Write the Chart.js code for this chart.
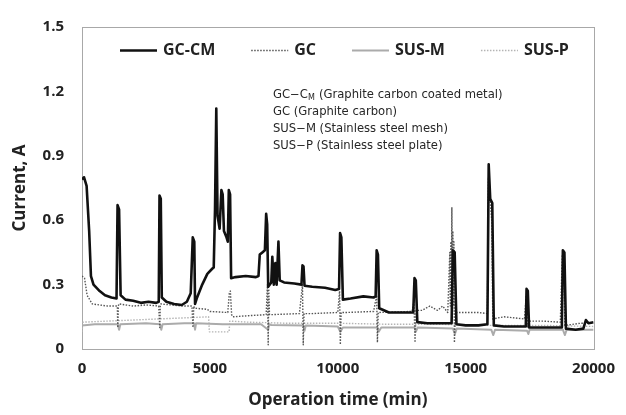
<!DOCTYPE html>
<html><head><meta charset="utf-8">
<script src="https://cdn.jsdelivr.net/npm/chart.js@4.4.0/dist/chart.umd.min.js"></script>
<style>html,body{margin:0;padding:0;background:#fff;}#wrap{width:626px;height:415px;}</style>
</head><body><div id="wrap"><canvas id="c" width="626" height="415"></canvas></div>
<script>
// ---- data (time in min, current in A) ----
const seriesNames = ['GC-CM', 'GC', 'SUS-M', 'SUS-P'];
const xTickLabels = ['0', '5000', '10000', '15000', '20000'];
const yTickLabels = ['0', '0.3', '0.6', '0.9', '1.2', '1.5'];
const noteLines = ['GC\u2212C|M| (Graphite carbon coated metal)', 'GC (Graphite carbon)', 'SUS\u2212M (Stainless steel mesh)', 'SUS\u2212P (Stainless steel plate)'];

const gccmTime = [
  0, 80, 180, 280, 350, 450, 690, 900, 1150, 1350,
  1390, 1450, 1510, 1700, 2000, 2300, 2600, 2900, 3000, 3030,
  3080, 3120, 3300, 3600, 3900, 4100, 4250, 4330, 4390, 4420,
  4500, 4700, 4900, 5100, 5150, 5200, 5250, 5300, 5380, 5450,
  5500, 5550, 5650, 5700, 5740, 5790, 5830, 6000, 6400, 6800,
  6900, 6950, 7050, 7150, 7200, 7240, 7280, 7400, 7440, 7500,
  7560, 7610, 7680, 7730, 7900, 8300, 8580, 8620, 8660, 8700,
  9000, 9500, 9900, 10050, 10090, 10140, 10200, 10500, 11000, 11400,
  11480, 11520, 11570, 11620, 12000, 12500, 12950, 13000, 13050, 13110,
  13500, 14000, 14450, 14500, 14570, 14640, 15000, 15500, 15850, 15900,
  15960, 16040, 16100, 16500, 17000, 17350, 17380, 17430, 17480, 18000,
  18500, 18760, 18800, 18860, 18920, 19300, 19600, 19700, 19800, 20000];
const gccmCurrent = [
  0.79, 0.80, 0.76, 0.55, 0.34, 0.30, 0.27, 0.25, 0.24, 0.235,
  0.67, 0.65, 0.25, 0.23, 0.225, 0.215, 0.22, 0.215, 0.22, 0.715,
  0.70, 0.24, 0.22, 0.21, 0.205, 0.22, 0.26, 0.52, 0.50, 0.21,
  0.24, 0.30, 0.35, 0.375, 0.38, 0.65, 1.12, 0.62, 0.56, 0.74,
  0.72, 0.55, 0.52, 0.50, 0.74, 0.72, 0.33, 0.335, 0.34, 0.335,
  0.34, 0.44, 0.45, 0.46, 0.63, 0.58, 0.29, 0.31, 0.43, 0.30,
  0.40, 0.30, 0.50, 0.32, 0.31, 0.305, 0.30, 0.39, 0.385, 0.295,
  0.29, 0.285, 0.275, 0.28, 0.54, 0.52, 0.23, 0.235, 0.245, 0.24,
  0.245, 0.46, 0.44, 0.19, 0.17, 0.17, 0.17, 0.33, 0.32, 0.125,
  0.12, 0.12, 0.12, 0.46, 0.45, 0.115, 0.11, 0.11, 0.115, 0.86,
  0.70, 0.68, 0.11, 0.105, 0.105, 0.105, 0.28, 0.27, 0.10, 0.10,
  0.10, 0.10, 0.46, 0.45, 0.095, 0.09, 0.095, 0.135, 0.12, 0.125];

const gcTime = [
  0, 100, 200, 400, 700, 1000, 1380, 1400, 1420, 1440,
  2000, 2500, 3000, 3040, 3060, 3080, 3500, 4000, 4300, 4340,
  4370, 4400, 4900, 5000, 5700, 5760, 5800, 5850, 5900, 6500,
  7200, 7250, 7280, 7300, 7330, 7400, 8500, 8620, 8650, 8680,
  9000, 10000, 10070, 10100, 10130, 10300, 11400, 11520, 11550, 11580,
  12900, 12980, 13020, 13060, 13300, 13600, 13900, 14100, 14300, 14380,
  14400, 14420, 14440, 14460, 14480, 14500, 14520, 14540, 14560, 14600,
  15000, 15500, 15850, 15890, 15950, 16020, 16060, 16500, 17300, 17370,
  17420, 17460, 18000, 18700, 18780, 18830, 18880, 19500, 20000];
const gcCurrent = [
  0.34, 0.33, 0.25, 0.21, 0.205, 0.20, 0.20, 0.10, 0.20, 0.21,
  0.20, 0.205, 0.20, 0.10, 0.20, 0.21, 0.205, 0.20, 0.20, 0.10,
  0.20, 0.19, 0.185, 0.175, 0.17, 0.26, 0.27, 0.16, 0.15, 0.155,
  0.16, 0.30, 0.02, 0.28, 0.16, 0.16, 0.165, 0.30, 0.02, 0.165,
  0.165, 0.17, 0.27, 0.02, 0.17, 0.17, 0.175, 0.25, 0.03, 0.17,
  0.175, 0.22, 0.03, 0.18, 0.18, 0.20, 0.18, 0.20, 0.17, 0.45,
  0.20, 0.50, 0.25, 0.66, 0.30, 0.55, 0.20, 0.50, 0.03, 0.17,
  0.17, 0.17, 0.165, 0.80, 0.70, 0.60, 0.14, 0.15, 0.14, 0.25,
  0.10, 0.13, 0.13, 0.125, 0.44, 0.40, 0.11, 0.12, 0.12];

const susmTime = [
  0, 500, 1400, 1450, 1500, 2500, 3050, 3100, 3150, 4000,
  4380, 4420, 4460, 5500, 7000, 7280, 7320, 7400, 8650, 8700,
  8750, 10000, 10100, 10200, 11550, 11600, 11700, 13000, 13050, 13120,
  14500, 14580, 14650, 16000, 16080, 16150, 17400, 17450, 17500, 18800,
  18880, 18950, 20000];
const susmCurrent = [
  0.11, 0.115, 0.115, 0.09, 0.115, 0.12, 0.115, 0.09, 0.115, 0.12,
  0.12, 0.09, 0.12, 0.115, 0.115, 0.09, 0.115, 0.112, 0.11, 0.085,
  0.11, 0.105, 0.08, 0.10, 0.10, 0.08, 0.10, 0.10, 0.08, 0.10,
  0.095, 0.07, 0.095, 0.09, 0.065, 0.09, 0.085, 0.07, 0.09, 0.09,
  0.065, 0.09, 0.09];

const suspTime = [
  0, 40, 1000, 2000, 3000, 4000, 4950, 4980, 5750, 5780,
  6500, 8000, 10000, 12000, 14000, 16000, 18000, 20000];
const suspCurrent = [
  0.08, 0.125, 0.13, 0.135, 0.14, 0.145, 0.15, 0.08, 0.08, 0.13,
  0.125, 0.12, 0.12, 0.115, 0.115, 0.11, 0.11, 0.105];

// ---- build ----
const pts = (t, c) => t.map((v, i) => ({x: v, y: c[i]}));
const FONT = "'Open Sans', 'Noto Sans', sans-serif";

const boxPlugin = {
  id: 'box',
  beforeDatasetsDraw(chart) {
    const a = chart.chartArea, ctx = chart.ctx;
    ctx.save();
    ctx.strokeStyle = '#a8a8a8';
    ctx.lineWidth = 1;
    ctx.strokeRect(Math.round(a.left) + 0.5, Math.round(a.top) + 0.5, Math.round(a.right - a.left), Math.round(a.bottom - a.top));
    ctx.restore();
  }
};
// legend drawn inside the plot box in a single row, styled from the datasets
const legendPlugin = {
  id: 'insideLegend',
  afterDraw(chart) {
    const ctx = chart.ctx, a = chart.chartArea;
    ctx.save();
    ctx.font = "bold 16px " + FONT;
    ctx.textBaseline = 'middle';
    const y = a.top + 23, lineLen = 37, gap = 6, spacing = 36;
    let x = a.left + 38;
    chart.data.datasets.forEach((ds) => {
      ctx.strokeStyle = ds.borderColor;
      ctx.lineWidth = ds.borderWidth;
      ctx.setLineDash(ds.borderDash || []);
      ctx.beginPath();
      ctx.moveTo(x, y + 0.5); ctx.lineTo(x + lineLen, y + 0.5);
      ctx.stroke();
      ctx.setLineDash([]);
      x += lineLen + gap;
      ctx.fillStyle = '#222';
      ctx.fillText(ds.label, x, y);
      x += ctx.measureText(ds.label).width + spacing;
    });
    ctx.restore();
  }
};
const notePlugin = {
  id: 'note',
  afterDraw(chart) {
    const ctx = chart.ctx;
    ctx.save();
    ctx.fillStyle = '#262626';
    ctx.textBaseline = 'middle';
    const x0 = 273, y0 = 95, dy = 17;
    noteLines.forEach((line, i) => {
      const y = y0 + i * dy;
      const parts = line.split('|');
      let x = x0;
      parts.forEach((p, j) => {
        if (j === 1) {
          ctx.font = "8px 'DejaVu Sans'";
          ctx.fillText(p, x, y + 3);
          x += ctx.measureText(p).width + 0.5;
        } else {
          ctx.font = "11.6px 'DejaVu Sans'";
          ctx.fillText(p, x, y);
          x += ctx.measureText(p).width;
        }
      });
    });
    ctx.restore();
  }
};

new Chart(document.getElementById('c'), {
  type: 'line',
  data: {
    datasets: [
      {label: seriesNames[0], data: pts(gccmTime, gccmCurrent), borderColor: '#111', borderWidth: 2.6},
      {label: seriesNames[1], data: pts(gcTime, gcCurrent), borderColor: '#555', borderWidth: 1.4, borderDash: [1.5, 1.5]},
      {label: seriesNames[2], data: pts(susmTime, susmCurrent), borderColor: '#ababab', borderWidth: 2},
      {label: seriesNames[3], data: pts(suspTime, suspCurrent), borderColor: '#b4b4b4', borderWidth: 1.4, borderDash: [1.5, 1.5]}
    ]
  },
  options: {
    responsive: false,
    animation: false,
    devicePixelRatio: 1,
    layout: {padding: {top: 19, right: 22, left: 0, bottom: 0}},
    elements: {point: {radius: 0}, line: {tension: 0, borderJoinStyle: 'round'}},
    plugins: {
      legend: {display: false},
      tooltip: {enabled: false}
    },
    scales: {
      x: {
        type: 'linear', min: 0, max: 20000,
        afterFit(s) { s.height = 66; },
        ticks: {stepSize: 5000, padding: 11, color: '#222', maxRotation: 0,
          font: {family: FONT, weight: 'bold', size: 15},
          callback: (v) => { const i = xTickLabels.indexOf(String(v)); return i >= 0 ? xTickLabels[i] : ''; }},
        grid: {display: false, drawTicks: false},
        border: {display: false},
        title: {display: true, text: 'Operation time (min)', color: '#222', padding: {top: 0, bottom: 5},
          font: {family: FONT, weight: 'bold', size: 17}}
      },
      y: {
        min: 0, max: 1.5,
        afterFit(s) { s.width = 82; },
        ticks: {stepSize: 0.3, padding: 18, color: '#222',
          font: {family: FONT, weight: 'bold', size: 15},
          callback: (v) => yTickLabels[Math.round(v / 0.3)]},
        grid: {display: false, drawTicks: false},
        border: {display: false},
        title: {display: true, text: 'Current, A', color: '#222', padding: {top: 10, bottom: 0},
          font: {family: FONT, weight: 'bold', size: 17}}
      }
    }
  },
  plugins: [boxPlugin, legendPlugin, notePlugin]
});
</script></body></html>
